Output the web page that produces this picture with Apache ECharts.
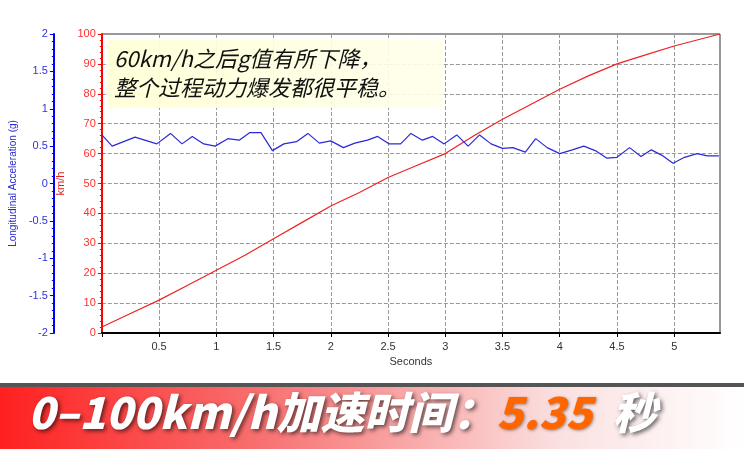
<!DOCTYPE html>
<html><head><meta charset="utf-8">
<script src="https://cdn.jsdelivr.net/npm/echarts@6/dist/echarts.min.js"></script>
<style>html,body{margin:0;padding:0;background:#fff}#c{width:744px;height:449px}</style>
</head><body><div id="c"></div>
<script>
var speedT = [0,0.25,0.5,0.75,1,1.25,1.5,1.75,2,2.25,2.5,2.75,3,3.25,3.5,3.75,4,4.25,4.5,4.75,5,5.25,5.4];
var speedV = [2,6.5,11,16,21,26,31.5,37,42.5,47,52,56,60,66,71.5,76.5,81.5,86,90,93,96,98.5,100];
var accT = [0,0.09,0.29,0.48,0.60,0.70,0.79,0.89,0.99,1.10,1.20,1.29,1.39,1.49,1.59,1.70,1.80,1.90,2.00,2.11,2.21,2.32,2.41,2.51,2.61,2.70,2.80,2.89,2.99,3.10,3.20,3.30,3.40,3.50,3.59,3.70,3.79,3.89,4.00,4.11,4.21,4.31,4.41,4.50,4.61,4.71,4.80,4.89,4.99,5.09,5.20,5.29,5.39];
var accV = [0.65,0.50,0.62,0.53,0.67,0.53,0.63,0.53,0.50,0.60,0.58,0.68,0.68,0.44,0.53,0.56,0.67,0.54,0.57,0.48,0.54,0.58,0.63,0.53,0.53,0.67,0.58,0.63,0.53,0.65,0.50,0.65,0.53,0.47,0.48,0.42,0.60,0.48,0.40,0.45,0.50,0.44,0.34,0.35,0.48,0.36,0.45,0.38,0.27,0.35,0.40,0.37,0.37];
var note = ['60km/h之后g值有所下降，','整个过程动力爆发都很平稳。'];
function pairs(a,b){return a.map(function(v,i){return [v,b[i]];});}
var chart = echarts.init(document.getElementById('c'));
chart.setOption({
  animation:false,
  grid:{left:100,right:24,top:34,bottom:116,show:true,borderColor:'#333',borderWidth:1,backgroundColor:'#fff'},
  xAxis:{type:'value',min:0,max:5.4,interval:0.5,name:'Seconds',nameLocation:'middle',nameGap:23,
    nameTextStyle:{color:'#333',fontSize:11,fontFamily:'Arial'},
    axisLine:{lineStyle:{color:'#000',width:2}},axisTick:{show:true,length:4,lineStyle:{color:'#000'}},
    axisLabel:{color:'#333',fontSize:11,fontFamily:'Arial',showMaxLabel:false,formatter:function(v){return v===0?'':String(v);}},
    splitLine:{show:true,lineStyle:{type:'dashed',color:'#999'}}},
  yAxis:[
    {type:'value',min:0,max:100,interval:10,position:'left',name:'km/h',nameLocation:'middle',nameGap:30,nameRotate:90,
     nameTextStyle:{color:'#e02020',fontSize:11,fontFamily:'Arial'},
     axisLine:{show:true,lineStyle:{color:'#ff0000',width:2}},axisTick:{show:true,length:4,lineStyle:{color:'#ff0000'}},
     minorTick:{show:true,splitNumber:5,length:2,lineStyle:{color:'#ff0000'}},
     axisLabel:{color:'#ff3030',fontSize:11,fontFamily:'Arial',margin:6},
     splitLine:{show:true,lineStyle:{type:'dashed',color:'#999'}}},
    {type:'value',min:-2,max:2,interval:0.5,position:'left',offset:48,name:'Longitudinal Acceleration (g)',nameLocation:'middle',nameGap:33,nameRotate:90,
     nameTextStyle:{color:'#2a2ad0',fontSize:10,fontFamily:'Arial'},
     axisLine:{show:true,lineStyle:{color:'#0000ff',width:2}},axisTick:{show:true,length:4,lineStyle:{color:'#0000ff'}},
     minorTick:{show:true,splitNumber:5,length:2,lineStyle:{color:'#0000ff'}},
     axisLabel:{color:'#3030e0',fontSize:11,fontFamily:'Arial',margin:6},
     splitLine:{show:false}}
  ],
  series:[
    {type:'line',yAxisIndex:0,data:pairs(speedT,speedV),showSymbol:false,smooth:false,lineStyle:{color:'#ee2222',width:1.2},z:3},
    {type:'line',yAxisIndex:1,data:pairs(accT,accV),showSymbol:false,lineStyle:{color:'#2a2ad8',width:1.2},z:4}
  ],
  graphic:[
    {type:'rect',shape:{x:108,y:40,width:335,height:68},style:{fill:{type:'linear',x:0,y:0,x2:1,y2:0,colorStops:[{offset:0,color:'rgba(255,255,215,0.95)'},{offset:1,color:'rgba(255,255,235,0.9)'}]}},z:10},
    {type:'text',left:114,top:44,style:{text:note.join('\n'),fill:'#111',font:'italic 22px "Noto Sans CJK SC", sans-serif',lineHeight:29},z:11},
    {type:'rect',shape:{x:0,y:383,width:744,height:4},style:{fill:'#555'},z:10},
    {type:'rect',shape:{x:0,y:387,width:744,height:62},style:{fill:{type:'linear',x:0,y:0,x2:1,y2:0,colorStops:[{offset:0,color:'#ff2020'},{offset:0.35,color:'#f87070'},{offset:0.75,color:'#fbe0e0'},{offset:1,color:'#ffffff'}]}},z:10},
    {type:'text',left:28,top:390,style:{rich:{a:{fill:'#fff',font:'italic 900 44px "Noto Sans CJK SC", sans-serif',textShadowColor:'rgba(0,0,0,0.6)',textShadowBlur:4,textShadowOffsetX:2,textShadowOffsetY:2},b:{fill:'#ff6600',font:'italic 900 44px "Noto Sans CJK SC", sans-serif',textShadowColor:'rgba(0,0,0,0.4)',textShadowBlur:3,textShadowOffsetX:1,textShadowOffsetY:1}},text:'{a|0–100km/h加速时间：}{b|5.35}{a|  秒}'},z:11}
  ]
});
</script></body></html>
